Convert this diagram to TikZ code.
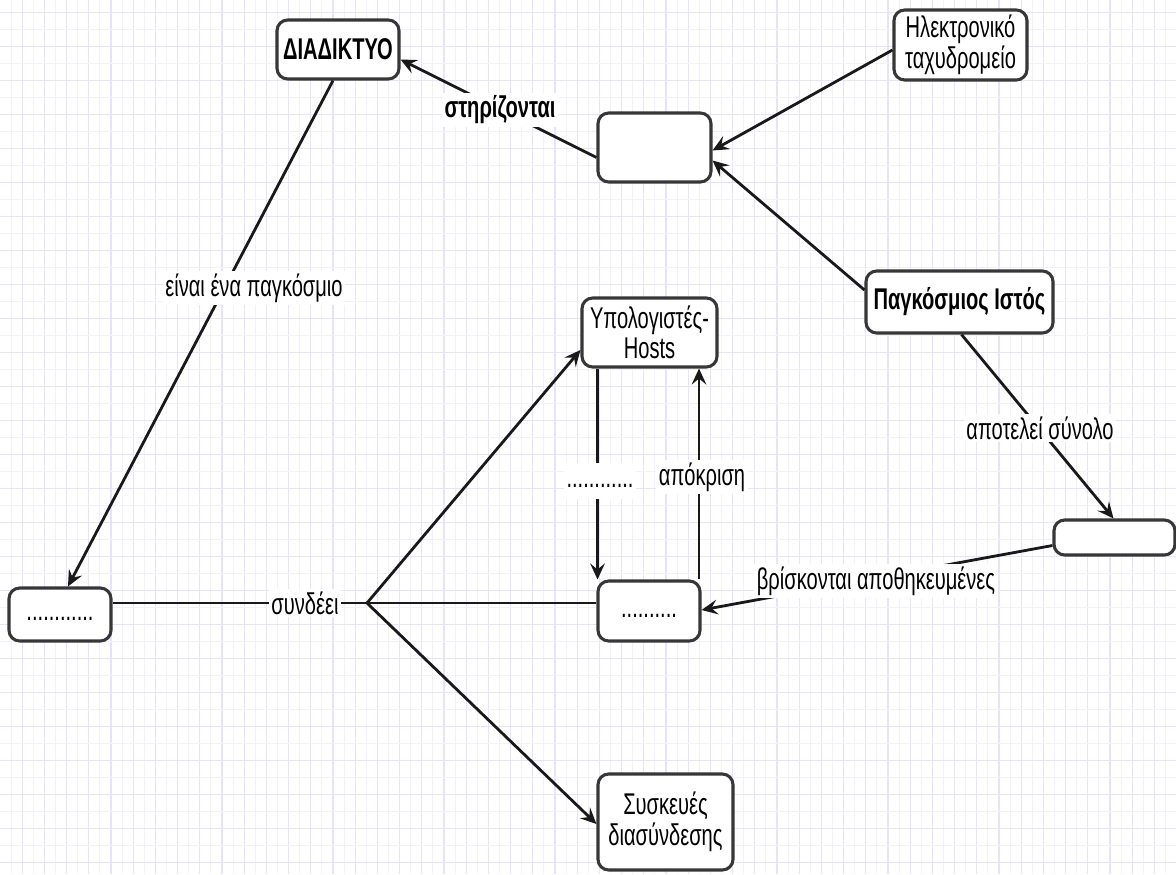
\documentclass[tikz,border=0pt]{standalone}
\usepackage{fontspec}
\newfontfamily\nar[FakeStretch=0.67]{Liberation Sans}
\usetikzlibrary{arrows.meta,calc}
\definecolor{gminor}{RGB}{241,241,247}
\definecolor{gmajor}{RGB}{229,229,250}
\definecolor{boxc}{RGB}{55,55,55}
\definecolor{linec}{RGB}{25,25,25}
\tikzset{
  txt/.style={font=\nar\fontsize{22.5}{23}\selectfont},
  box/.style={txt, draw=boxc, line width=2.3pt, rounded corners=8pt, fill=white, align=center, inner sep=0pt},
  lbl/.style={txt, fill=white, inner sep=2pt},
  conn/.style={draw=linec, line width=2.1pt},
  arr/.style={conn, -{Stealth[length=12pt,width=11pt,inset=4.5pt]}},
}
\begin{document}
\begin{tikzpicture}[x=0.75pt,y=-0.75pt]
\useasboundingbox (0,0) rectangle (1176,874);
\fill[white] (0,0) rectangle (1176,874);
% grid
\foreach \i in {1,...,105} {
  \pgfmathsetmacro{\gx}{\i*11.1}
  \ifodd\i
    \draw[gminor, line width=0.8pt] (\gx,0) -- (\gx,874);
  \else
    \draw[gmajor, line width=0.9pt] (\gx,0) -- (\gx,874);
  \fi
}
\foreach \k in {0,...,50} {
  \pgfmathsetmacro{\gy}{12.3+\k*17}
  \ifodd\k
    \draw[gminor, line width=0.8pt] (0,\gy) -- (1176,\gy);
  \else
    \draw[gmajor, line width=0.9pt] (0,\gy) -- (1176,\gy);
  \fi
}
% boxes
\node[box, minimum width=122*0.75pt, minimum height=59*0.75pt] (int) at (338,49.5) {\bfseries ΔΙΑΔΙΚΤΥΟ};
\node[box, minimum width=133*0.75pt, minimum height=70*0.75pt] (email) at (960.5,45) {Ηλεκτρονικό\\ταχυδρομείο};
\node[box, minimum width=113*0.75pt, minimum height=69*0.75pt] (web) at (654.5,147.5) {};
\node[box, minimum width=187*0.75pt, minimum height=62*0.75pt] (wiki) at (959.5,302) {\bfseries Παγκόσμιος Ιστός};
\node[box, minimum width=135*0.75pt, minimum height=69*0.75pt] (hosts) at (649.5,332.5) {Υπολογιστές-\\Hosts};
\node[box, minimum width=102*0.75pt, minimum height=53*0.75pt] (left) at (60,614.5) {\strut............};
\node[box, minimum width=102*0.75pt, minimum height=60*0.75pt] (dots) at (649,611) {\strut..........};
\node[box, minimum width=121*0.75pt, minimum height=35*0.75pt] (right) at (1114.5,537.5) {};
\node[box, minimum width=135*0.75pt, minimum height=96*0.75pt] (dev) at (665.5,822) {Συσκευές\\διασύνδεσης};
\coordinate (J) at (367,603);
% connectors
\draw[arr] ($(web.west)+(0,10)$) -- ($(int.east)+(0,10)$);
\draw[arr] ($(email.west)+(0,5)$) -- ($(web.east)+(0,3)$);
\draw[arr] ($(wiki.west)+(0,-12)$) -- ($(web.east)+(0,13)$);
\draw[arr] ($(int.south)+(-5,0)$) -- ($(left.north)+(8,0)$);
\draw[conn] ($(left.east)+(0,-11.5)$) -- (J);
\draw[arr] (J) -- ($(hosts.west)+(0,17.5)$);
\draw[conn] (J) -- ($(dots.west)+(0,-8)$);
\draw[arr] (J) -- ($(dev.west)+(0,2)$);
\draw[arr] ($(hosts.south)+(-52,0)$) -- ($(dots.north)+(-51.5,0)$);
\draw[arr] ($(dots.north)+(50,0)$) -- ($(hosts.south)+(49.5,0)$);
\draw[arr] ($(right.west)+(0,8)$) -- ($(dots.east)+(0,-1)$);
\draw[arr] ($(wiki.south)+(2,0)$) -- ($(right.north)+(-1,0)$);
% labels
\node[lbl] (l1) at (500,110) {\bfseries στηρίζονται};
\node[lbl] (l2) at (254,288) {είναι ένα παγκόσμιο};
\node[lbl] (l3) at (305,603) {συνδέει};
\node[lbl] (l4) at (600,481) {\strut............};
\node[lbl] (l5) at (702,477) {απόκριση};
\node[lbl] (l6) at (876,581) {βρίσκονται αποθηκευμένες};
\node[lbl] (l7) at (1040,428) {αποτελεί σύνολο};
\end{tikzpicture}
\end{document}
